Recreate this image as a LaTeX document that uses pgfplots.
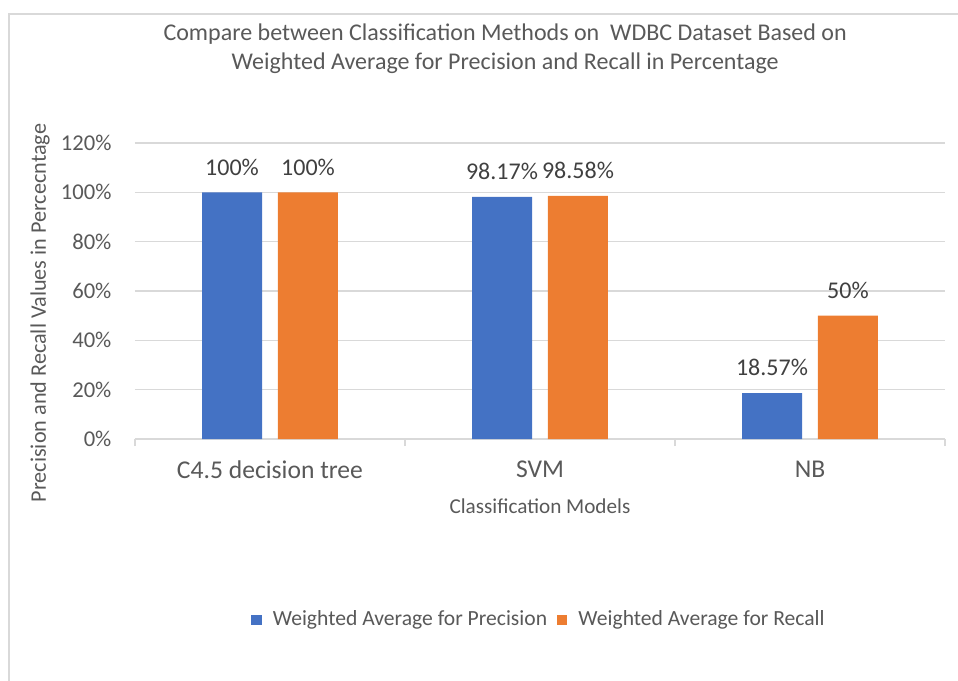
\documentclass[border=0pt]{standalone}
\usepackage{pgfplots}
\pgfplotsset{compat=1.18}
\usepackage{fontspec}
\setmainfont{Carlito}
\definecolor{cblue}{HTML}{4472C4}
\definecolor{corange}{HTML}{ED7D31}
\definecolor{txt}{HTML}{595959}
\definecolor{lbl}{HTML}{404040}
\definecolor{gridc}{HTML}{D9D9D9}
\begin{document}
\begin{tikzpicture}
\begin{axis}[
  at={(0,0)}, anchor=south west,
  scale only axis, width=405pt, height=148pt,
  xmin=-0.5, xmax=2.5, ymin=0, ymax=120,
  ybar, bar width=0.2222,
  axis line style={draw=none},
  xtick={0,1,2},
  xticklabels={C4.5 decision tree, SVM, NB},
  minor xtick={-0.5,0.5,1.5,2.5},
  major x tick style={draw=none},
  minor x tick style={draw=gridc, line width=0.6pt},
  minor tick length=3.5pt,
  tick align=outside, tick pos=left,
  ytick={0,20,40,60,80,100,120},
  yticklabels={0\%,20\%,40\%,60\%,80\%,100\%,120\%},
  major y tick style={draw=none},
  ymajorgrids, grid style={draw=gridc, line width=0.6pt},
  extra y ticks={0}, extra y tick labels={},
  extra y tick style={grid style={draw=gridc!100!black, line width=0.7pt}},
  yticklabel style={font=\fontsize{11.3}{13}\selectfont, text=txt, xshift=-4pt},
  xticklabel style={font=\fontsize{12.8}{15}\selectfont, text=txt, yshift=-3pt},
  xlabel={Classification Models},
  ylabel={Precision and Recall Values in Percecntage},
  xlabel style={font=\fontsize{10.6}{12}\selectfont, text=txt, at={(axis description cs:0.5,-0.226)}, anchor=center},
  ylabel style={font=\fontsize{11.1}{12}\selectfont, text=txt, at={(axis description cs:-0.1173,0.426)}, anchor=center},
  title={Compare between Classification Methods on\ \ WDBC Dataset Based on\\Weighted Average for Precision and Recall in Percentage},
  title style={at={(axis description cs:0.457,1.277)}, anchor=center, align=center,
    font=\fontsize{12}{14.5}\selectfont, text=txt},
  point meta=explicit symbolic,
  nodes near coords,
  every node near coord/.append style={font=\fontsize{12}{14}\selectfont, text=lbl, anchor=south, yshift=5pt},
  legend columns=2,
  legend style={at={(axis description cs:0.5,-0.611)}, anchor=center, draw=none,
    font=\fontsize{10.8}{12}\selectfont, text=txt,
    /tikz/every odd column/.append style={column sep=3.5pt},
    /tikz/every even column/.append style={column sep=3pt}},
  legend image code/.code={\fill[#1] (0pt,-2.6pt) rectangle (5.2pt,2.6pt);},
]
\addplot[fill=cblue, draw=none, bar shift=-0.1407] coordinates {(0,100) [100\%] (1,98.17) [98.17\%] (2,18.57) [18.57\%]};
\addplot[fill=corange, draw=none, bar shift=0.1407] coordinates {(0,100) [100\%] (1,98.58) [98.58\%] (2,50) [50\%]};
\legend{Weighted Average for Precision, Weighted Average for Recall}
\end{axis}
\draw[gridc, line width=1pt] (-63pt,-121pt) -- (-63pt,212.5pt) -- (412pt,212.5pt);
\pgfresetboundingbox
\useasboundingbox (-67.5pt,-120.5pt) rectangle (411.5pt,219.5pt);
\end{tikzpicture}
\end{document}
